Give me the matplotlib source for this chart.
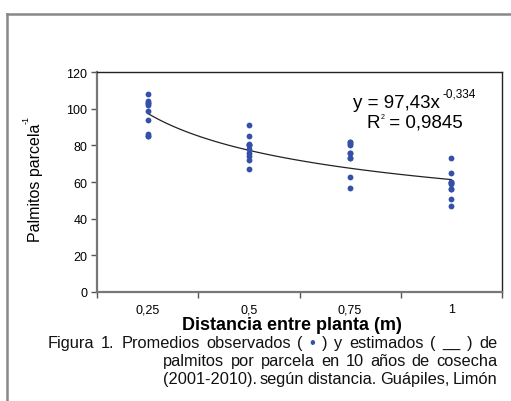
import numpy as np
import matplotlib.pyplot as plt
from matplotlib.lines import Line2D

plt.rcParams['font.family'] = ['Liberation Sans', 'DejaVu Sans']

# datos
categorias = ['0,25', '0,5', '0,75', '1']
obs_025 = [108, 104, 103, 102, 99, 94, 86, 85, 85, 103]
obs_05 = [91, 85, 81, 80, 78, 76, 74, 72, 67, 80]
obs_075 = [82, 82, 81, 80, 76, 76, 73, 73, 63, 57]
obs_1 = [73, 65, 60, 59.5, 59, 56, 51, 47, 56, 60]
coef_a = 97.43
coef_b = -0.334

fig = plt.figure(figsize=(5.11, 4.02), dpi=100)
ax = fig.add_axes([97 / 511, 109 / 402, 405 / 511, 220 / 402])

azul = '#3450a8'
for i, vals in enumerate([obs_025, obs_05, obs_075, obs_1]):
    ax.plot([i + 0.5] * len(vals), vals, 'o', color=azul, markersize=4.2,
            markeredgewidth=0, zorder=3)

# curva potencial (x = 1..4 como en Excel)
xx = np.linspace(1, 4, 100)
ax.plot(xx - 0.5, coef_a * xx ** coef_b, color='#222222', lw=0.9, zorder=2)

ax.set_xlim(0, 4)
ax.set_ylim(0, 120)
ax.set_yticks(range(0, 121, 20))
ax.set_xticks([0, 1, 2, 3, 4])
ax.set_xticklabels([])
ax.set_xticks([0.5, 1.5, 2.5, 3.5], minor=True)
ax.set_xticklabels(categorias, minor=True)
ax.tick_params(axis='x', which='minor', length=0, pad=8, labelsize=9)
ax.tick_params(axis='x', which='major', length=4, width=1, color='#555555', direction='out')
ax.tick_params(axis='y', length=4, width=1, color='#555555', labelsize=9, pad=3)

for s in ['left', 'bottom']:
    ax.spines[s].set_color('#777777')
    ax.spines[s].set_linewidth(1.6)
for s in ['top', 'right']:
    ax.spines[s].set_color('#222222')
    ax.spines[s].set_linewidth(1.0)

# ecuacion y R2 con superindices pequenos
eq = fig.text(353 / 511, 1 - 103 / 402, 'y = 97,43x', ha='left', va='center', fontsize=13.5)
ax.annotate('-0,334', xy=(1, 0.62), xycoords=eq, xytext=(2, 0), textcoords='offset points',
            ha='left', va='bottom', fontsize=8.5)
rr = fig.text(366 / 511, 1 - 123 / 402, 'R', ha='left', va='center', fontsize=13.5)
ax.annotate('2', xy=(1, 0.62), xycoords=rr, xytext=(0.5, 0), textcoords='offset points',
            ha='left', va='bottom', fontsize=5)
ax.annotate(' = 0,9845', xy=(1, 0.5), xycoords=rr, xytext=(3, 0), textcoords='offset points',
            ha='left', va='center', fontsize=13.5)

ylab = ax.set_ylabel('Palmitos parcela', fontsize=11.5)
ax.yaxis.set_label_coords(-0.133, 0.5)
ax.annotate('-1', xy=(0.15, 1), xycoords=ylab, xytext=(0, 0), textcoords='offset points',
            ha='right', va='bottom', fontsize=6.5, rotation=90)

fig.text(292 / 511, 1 - 326 / 402, 'Distancia entre planta (m)', ha='center', va='center',
         fontsize=13, fontweight='bold')

# pie de figura justificado
fig.canvas.draw()
renderer = fig.canvas.get_renderer()


def linea_justificada(partes, x0, x1, y, fs=11.8):
    objs = []
    for p, col in partes:
        t = fig.text(0, y, p, fontsize=fs, color=col, va='center', ha='left')
        objs.append(t)
    anchos = [t.get_window_extent(renderer).width for t in objs]
    total = sum(anchos)
    hueco = max((x1 - x0 - total) / (len(objs) - 1), 2.5)
    x = x0
    for t, w in zip(objs, anchos):
        t.set_x(x / 511)
        x += w + hueco


negro = '#111111'
l1 = [('Figura', negro), ('1.', negro), ('Promedios', negro), ('observados', negro),
      ('(', negro), ('\u2022', azul), (')', negro), ('y', negro), ('estimados', negro),
      ('(', negro), ('__', negro), (')', negro), ('de', negro)]
linea_justificada(l1, 48, 497, 1 - 344 / 402)
l2 = [(w, negro) for w in 'palmitos por parcela en 10 años de cosecha'.split()]
linea_justificada(l2, 163, 497, 1 - 362 / 402)
l3 = [(w, negro) for w in '(2001-2010). según distancia. Guápiles, Limón'.split()]
linea_justificada(l3, 163, 497, 1 - 380 / 402)

# marco exterior
fig.add_artist(Line2D([7 / 511, 7 / 511], [0, 1 - 15 / 402], transform=fig.transFigure,
                      color='#888888', lw=1.8))
fig.add_artist(Line2D([7 / 511, 1], [1 - 15 / 402, 1 - 15 / 402], transform=fig.transFigure,
                      color='#888888', lw=1.8))

fig.savefig('out.png', dpi=100)
